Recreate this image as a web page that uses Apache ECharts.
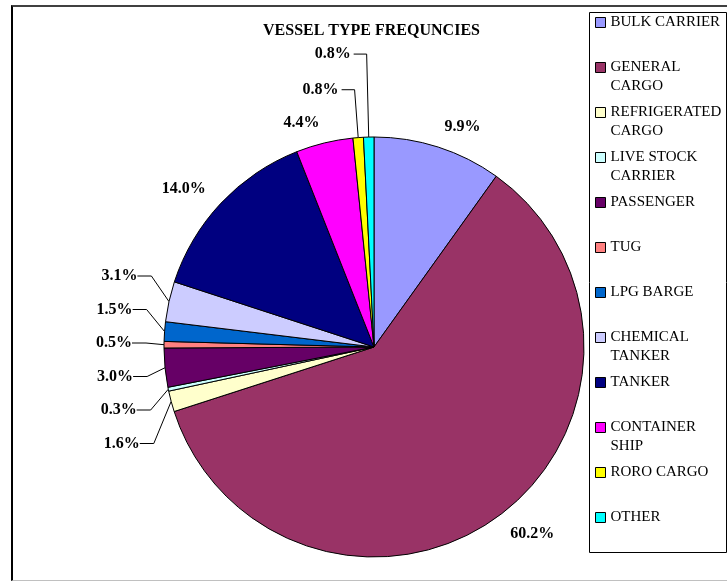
<!DOCTYPE html>
<html>
<head>
<meta charset="utf-8">
<script src="https://cdn.jsdelivr.net/npm/echarts@6/dist/echarts.min.js"></script>
<style>
  html, body { margin: 0; padding: 0; background: #fff; }
  #chart { position: absolute; left: 0; top: 0; width: 727px; height: 581px; }
  #frame {
    position: absolute; left: 11px; top: 5px; width: 716px; height: 573px;
    border-top: 2px solid #404040; border-left: 2px solid #000; border-bottom: 1px solid #c0c0c0;
    pointer-events: none;
  }
</style>
</head>
<body>
<div id="chart"></div>
<div id="frame"></div>
<script>
// vessel types, clockwise from 12 o'clock
var categories = ['BULK CARRIER', 'GENERAL CARGO', 'REFRIGERATED CARGO', 'LIVE STOCK CARRIER',
  'PASSENGER', 'TUG', 'LPG BARGE', 'CHEMICAL TANKER', 'TANKER', 'CONTAINER SHIP', 'RORO CARGO', 'OTHER'];
var percents = [9.9, 60.2, 1.6, 0.3, 3.0, 0.5, 1.5, 3.1, 14.0, 4.4, 0.8, 0.8];
var colors = ['#9999FF', '#993366', '#FFFFCC', '#CCFFFF', '#660066', '#FF8080',
  '#0066CC', '#CCCCFF', '#000080', '#FF00FF', '#FFFF00', '#00FFFF'];

var CX = 374, CY = 347, R = 210;
var FONT = 'Liberation Serif, Times New Roman, serif';

// small slices on the left get leader lines and are spread top to bottom
var leftGroup = [7, 6, 5, 4, 3, 2];
var topGroup = { 10: 48, 11: 83 };

var pieData = categories.map(function (name, i) {
  var item = { name: name, value: percents[i], itemStyle: { color: colors[i] } };
  if (leftGroup.indexOf(i) >= 0) {
    item.labelLine = { show: true, length: 18, length2: 14 };
    item.label = { distanceToLabelLine: 0 };
  } else if (topGroup[i]) {
    item.labelLine = { show: true, length: topGroup[i], length2: 13 };
    item.label = { distanceToLabelLine: 3 };
  } else {
    item.labelLine = { show: false, length: 21, length2: 0 };
    item.label = { distanceToLabelLine: 0 };
  }
  return item;
});

var myChart = echarts.init(document.getElementById('chart'));
var option = {
  animation: false,
  backgroundColor: '#fff',
  title: {
    text: 'VESSEL TYPE FREQUNCIES',
    left: 263, top: 23, padding: 0,
    textStyle: { fontFamily: FONT, fontSize: 16, fontWeight: 'bold', color: '#000' }
  },
  legend: {
    orient: 'vertical',
    left: 595, top: -6, padding: 0,
    itemWidth: 10, itemHeight: 10, itemGap: -12,
    icon: 'rect',
    itemStyle: { borderColor: '#000', borderWidth: 1 },
    textStyle: { fontFamily: FONT, fontSize: 15, lineHeight: 19, color: '#000' },
    formatter: function (name) {
      // wrap long names like the original legend, icon sits beside the first line
      if (name.length > 12) {
        var k = name.lastIndexOf(' ');
        return '\n' + name.slice(0, k) + '\n' + name.slice(k + 1);
      }
      return '\n' + name + '\n';
    },
    data: categories
  },
  graphic: [{
    type: 'rect',
    shape: { x: 589.5, y: 12.5, width: 137, height: 540 },
    style: { fill: 'none', stroke: '#000', lineWidth: 1 },
    silent: true
  }],
  series: [{
    type: 'pie',
    center: [CX, CY],
    radius: R,
    startAngle: 90,
    clockwise: true,
    avoidLabelOverlap: false,
    itemStyle: { borderColor: '#000', borderWidth: 1 },
    label: {
      show: true,
      position: 'outside',
      fontFamily: FONT, fontSize: 16, fontWeight: 'bold', color: '#000',
      formatter: function (p) { return p.value.toFixed(1) + '%'; }
    },
    labelLine: { lineStyle: { color: '#000', width: 1 }, smooth: false },
    labelLayout: function (p) {
      var k = leftGroup.indexOf(p.dataIndex);
      if (k < 0) return {};
      return { y: CY - 4 + (k - 2) * 33.5 };
    },
    emphasis: { disabled: true },
    data: pieData
  }]
};
myChart.setOption(option);
window.addEventListener('resize', function () { myChart.resize(); });
</script>
</body>
</html>
